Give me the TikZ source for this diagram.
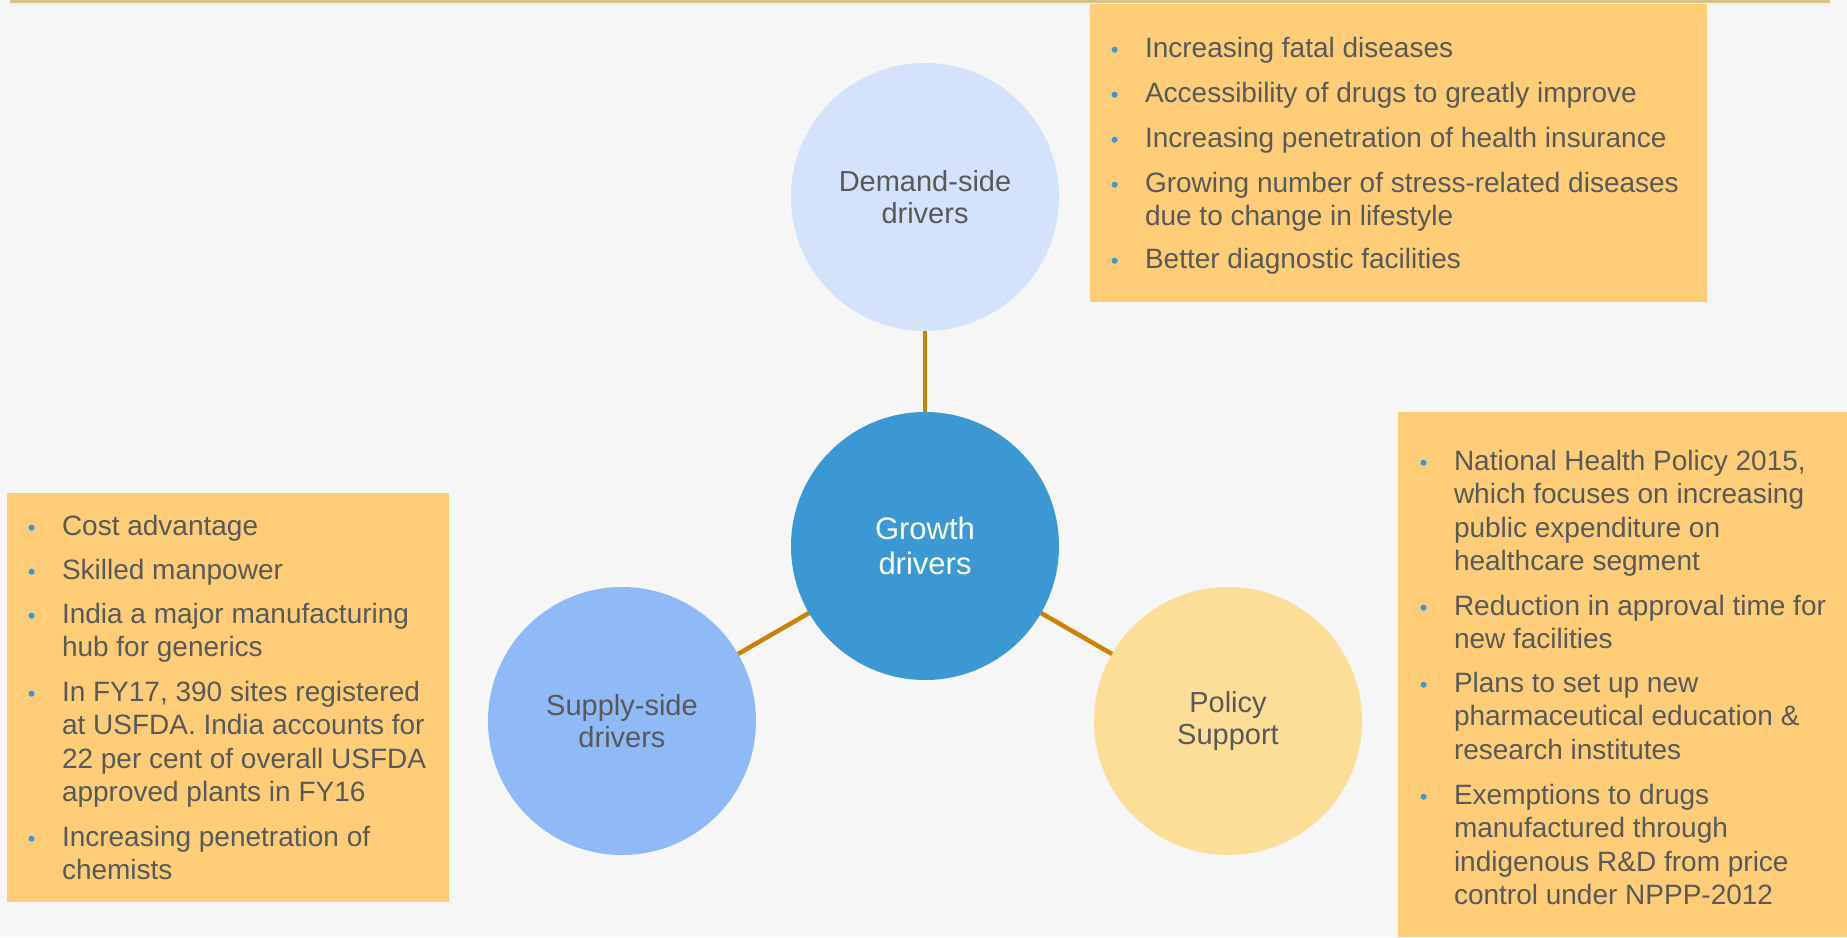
\documentclass[tikz,border=0pt]{standalone}
\usepackage{fontspec}
\setmainfont{Liberation Sans}
\usepackage{tikz}

\definecolor{bg}{HTML}{F6F6F6}
\definecolor{boxorange}{HTML}{FFCD78}
\definecolor{demandblue}{HTML}{D4E2FC}
\definecolor{growthblue}{HTML}{3C98D3}
\definecolor{supplyblue}{HTML}{8FB9F7}
\definecolor{policyyellow}{HTML}{FCDE98}
\definecolor{linkorange}{HTML}{CC8100}
\definecolor{textgrey}{HTML}{595959}
\definecolor{bulletblue}{HTML}{3A96D4}
\definecolor{topgold}{HTML}{D3C28A}

\newcommand{\bul}{\llap{{\fontsize{22}{22}\selectfont\textcolor{bulletblue}{\textbullet}}\hspace{26.5pt}}}
\newcommand{\pts}[1]{\parbox[t]{700pt}{\raggedright\leavevmode\bul #1}}

\begin{document}
\begin{tikzpicture}
        [x=1pt, y=-1pt, every node/.style={inner sep=0, outer sep=0, text=textgrey},
         hub/.style={shape=circle, minimum size=268pt, align=center, font=\fontsize{29}{32}\selectfont},
         infobox/.style={fill=boxorange, anchor=north west},
         item/.style={anchor=base west, font=\fontsize{28}{33.5}\selectfont},
         link/.style={draw=linkorange, line width=4.5pt}]

        \fill[bg] (0,0) rectangle (1847,937);
        \useasboundingbox (0,0) rectangle (1847,937);
        \fill[topgold] (10,0) rectangle (1830,3);
        \fill[topgold!25!white] (10,3) rectangle (1830,6);

        \node[infobox, minimum width=617pt, minimum height=298pt] (demandbox) at (1090,4) {};
        \node[infobox, minimum width=442pt, minimum height=409pt] (supplybox) at (7,493) {};
        \node[infobox, minimum width=449pt, minimum height=525pt] (policybox) at (1398,412) {};

        \node[hub, fill=demandblue] (demand) at (925,197) {Demand-side\\drivers};
        \node[hub, fill=growthblue, text=white, font=\fontsize{31}{35}\selectfont] (growth) at (925,546) {Growth\\drivers};
        \node[hub, fill=supplyblue] (supply) at (622,721) {Supply-side\\drivers};
        \node[hub, fill=policyyellow] (policy) at (1228,721) {Policy\\Support};

        \draw[link] (demand) -- (growth);
        \draw[link] (growth) -- (supply);
        \draw[link] (growth) -- (policy);

        \node[item] (d1) at (1145,57) {\pts{Increasing fatal diseases}};
        \node[item] (d2) at (1145,102) {\pts{Accessibility of drugs to greatly improve}};
        \node[item] (d3) at (1145,147) {\pts{Increasing penetration of health insurance}};
        \node[item] (d4) at (1145,192) {\pts{Growing number of stress-related diseases\\due to change in lifestyle}};
        \node[item] (d5) at (1145,268) {\pts{Better diagnostic facilities}};

        \node[item] (s1) at (62,535) {\pts{Cost advantage}};
        \node[item] (s2) at (62,579) {\pts{Skilled manpower}};
        \node[item] (s3) at (62,623) {\pts{India a major manufacturing\\hub for generics}};
        \node[item] (s4) at (62,701) {\pts{In FY17, 390 sites registered\\at USFDA. India accounts for\\22 per cent of overall USFDA\\approved plants in FY16}};
        \node[item] (s5) at (62,846) {\pts{Increasing penetration of\\chemists}};

        \node[item] (p1) at (1454,470) {\pts{National Health Policy 2015,\\which focuses on increasing\\public expenditure on\\healthcare segment}};
        \node[item] (p2) at (1454,615) {\pts{Reduction in approval time for\\new facilities}};
        \node[item] (p3) at (1454,692) {\pts{Plans to set up new\\pharmaceutical education \&\\research institutes}};
        \node[item] (p4) at (1454,804) {\pts{Exemptions to drugs\\manufactured through\\indigenous R\&D from price\\control under NPPP-2012}};

      \end{tikzpicture}
\end{document}
